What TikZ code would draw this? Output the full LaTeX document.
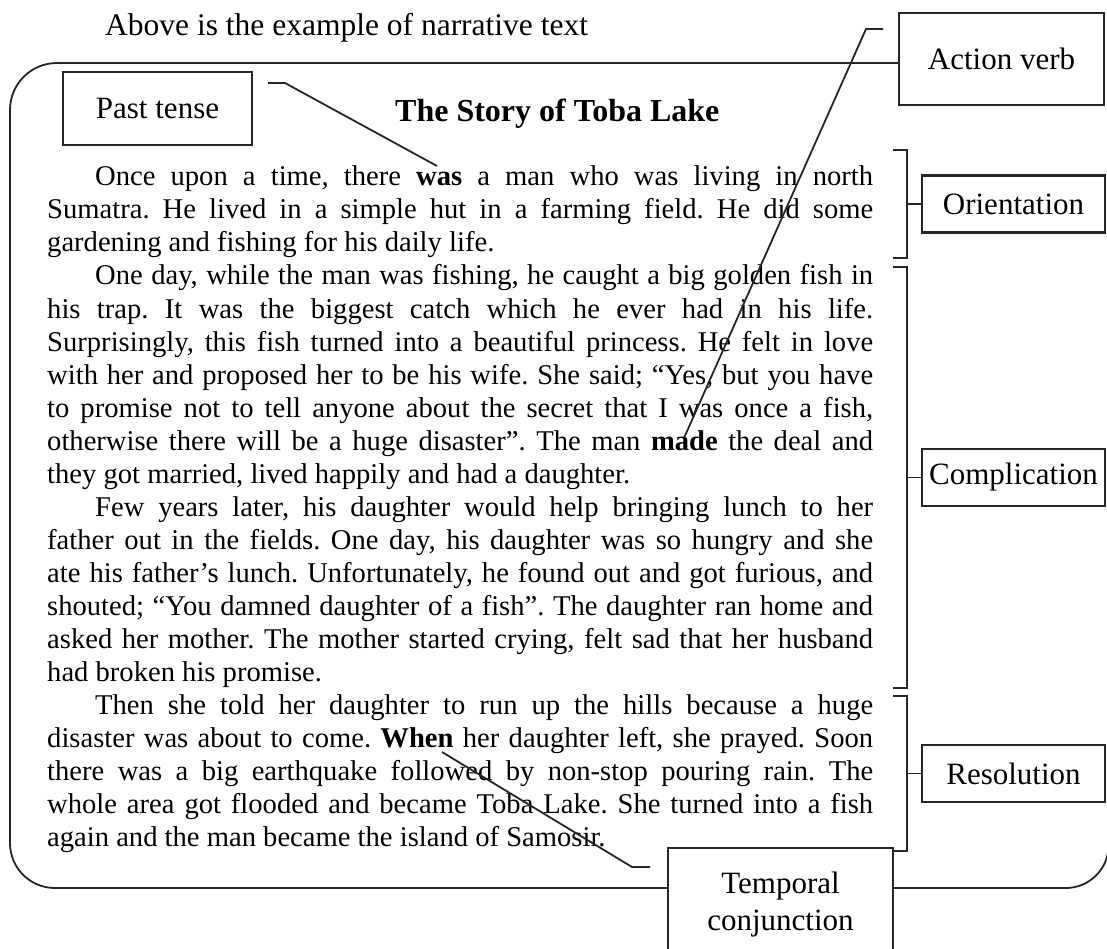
\documentclass[tikz,border=0pt]{standalone}
\usepackage{fontspec}
\setmainfont{Liberation Serif}
\frenchspacing
\newcommand\storyline[1]{\makebox[826pt][s]{#1}}
\newcommand\parind{\hspace*{48pt}}
\begin{document}
\frenchspacing
\begin{tikzpicture}[x=1pt,y=-1pt,
  lab/.style={draw=black!85, line width=2.2pt, inner sep=0pt, font=\fontsize{31}{37}\selectfont},
  ln/.style={anchor=base west, inner sep=0pt, font=\fontsize{28.6}{33}\selectfont},
  frame/.style={draw=black!85, line width=1.8pt},
  conn/.style={draw=black!85, line width=1.8pt},
  brk/.style={draw=black!85, line width=1.5pt}]
\useasboundingbox (0,0) rectangle (1107,949);

% heading
\node[anchor=base west, inner sep=0pt, font=\fontsize{31.5}{36}\selectfont] (above) at (105,36) {Above is the example of narrative text};

% frame
\draw[frame] (899,63) -- (57,63) .. controls (31,63) and (10,84) .. (10,110) -- (10,843)
  .. controls (10,868) and (30,888) .. (55,888) -- (668,888);
\draw[frame] (893,888) -- (1066,888) .. controls (1089,888) and (1108.5,869) .. (1108.5,846) -- (1108.5,105);

% title
\node[anchor=base west, inner sep=0pt, font=\bfseries\fontsize{32}{37}\selectfont] (title) at (395,122) {The Story of Toba Lake};

% story lines
\node[ln] (l1) at (47,186) {\storyline{\parind Once upon a time, there \textbf{was} a man who was living in north}};
\node[ln] (l2) at (47,219) {\storyline{Sumatra. He lived in a simple hut in a farming field. He did some}};
\node[ln] (l3) at (47,252) {gardening and fishing for his daily life.};
\node[ln] (l4) at (47,285) {\storyline{\parind One day, while the man was fishing, he caught a big golden fish in}};
\node[ln] (l5) at (47,318) {\storyline{his trap. It was the biggest catch which he ever had in his life.}};
\node[ln] (l6) at (47,351) {\storyline{Surprisingly, this fish turned into a beautiful princess. He felt in love}};
\node[ln] (l7) at (47,384) {\storyline{with her and proposed her to be his wife. She said; “Yes, but you have}};
\node[ln] (l8) at (47,417) {\storyline{to promise not to tell anyone about the secret that I was once a fish,}};
\node[ln] (l9) at (47,450) {\storyline{otherwise there will be a huge disaster”. The man \textbf{made} the deal and}};
\node[ln] (l10) at (47,483) {they got married, lived happily and had a daughter.};
\node[ln] (l11) at (47,516) {\storyline{\parind Few years later, his daughter would help bringing lunch to her}};
\node[ln] (l12) at (47,549) {\storyline{father out in the fields. One day, his daughter was so hungry and she}};
\node[ln] (l13) at (47,582) {\storyline{ate his father’s lunch. Unfortunately, he found out and got furious, and}};
\node[ln] (l14) at (47,615) {\storyline{shouted; “You damned daughter of a fish”. The daughter ran home and}};
\node[ln] (l15) at (47,648) {\storyline{asked her mother. The mother started crying, felt sad that her husband}};
\node[ln] (l16) at (47,681) {had broken his promise.};
\node[ln] (l17) at (47,714) {\storyline{\parind Then she told her daughter to run up the hills because a huge}};
\node[ln] (l18) at (47,747) {\storyline{disaster was about to come. \textbf{When} her daughter left, she prayed. Soon}};
\node[ln] (l19) at (47,780) {\storyline{there was a big earthquake followed by non-stop pouring rain. The}};
\node[ln] (l20) at (47,813) {\storyline{whole area got flooded and became Toba Lake. She turned into a fish}};
\node[ln] (l21) at (47,846) {again and the man became the island of Samosir.};

% label boxes
\node[lab, fill=white, minimum width=189pt, minimum height=73pt] (pt) at (157.5,108.5) {Past tense};
\node[lab, fill=white, minimum width=205pt, minimum height=92pt] (av) at (1001.5,59) {Action verb};
\node[lab, fill=white, minimum width=183pt, minimum height=57pt] (or) at (1013.5,204) {Orientation};
\node[lab, fill=white, minimum width=183pt, minimum height=57pt] (co) at (1013.5,477.5) {Complication};
\node[lab, fill=white, minimum width=183pt, minimum height=57pt] (re) at (1013.5,773.5) {Resolution};
\node[lab, fill=white, minimum width=225pt, minimum height=160pt, anchor=north] (tc) at (780.5,847) {};
\node[anchor=base, inner sep=0pt, font=\fontsize{31}{37}\selectfont] (tc1) at (780.5,893) {Temporal};
\node[anchor=base, inner sep=0pt, font=\fontsize{31}{37}\selectfont] (tc2) at (780.5,930) {conjunction};

% brackets
\draw[brk] (893,150) -- (907,150) -- (907,258) -- (893,258);
\draw[brk] (907,204) -- (or.west);
\draw[brk] (893,267) -- (907,267) -- (907,688) -- (893,688);
\draw[brk] (907,477.5) -- (co.west);
\draw[brk] (893,696) -- (907,696) -- (907,851) -- (893,851);
\draw[brk] (907,773.5) -- (re.west);

% pointers
\coordinate (ptA) at (268,83);
\coordinate (ptB) at (285,83);
\coordinate (wasW) at (437,166);
\draw[conn] (ptA) -- (ptB) -- (wasW);

\coordinate (avA) at (883,29);
\coordinate (avB) at (866,29);
\coordinate (madeW) at (684,438);
\draw[conn] (avA) -- (avB) -- (madeW);

\coordinate (whenW) at (442,752);
\coordinate (tcB) at (632,867);
\coordinate (tcA) at (650,867);
\draw[conn] (whenW) -- (tcB) -- (tcA);
\end{tikzpicture}
\end{document}
